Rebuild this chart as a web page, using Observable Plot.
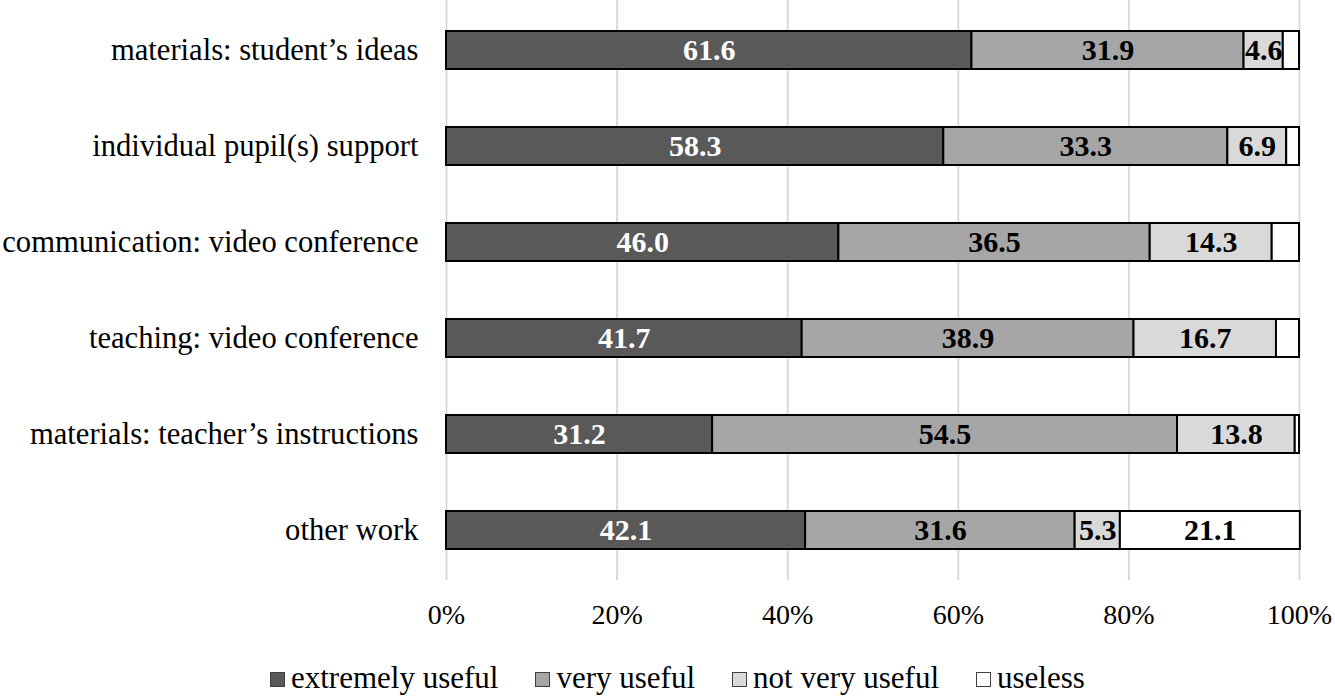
<!DOCTYPE html>
<html>
<head>
<meta charset="utf-8">
<script src="https://cdn.jsdelivr.net/npm/d3@7"></script>
<script src="https://cdn.jsdelivr.net/npm/@observablehq/plot@0.6"></script>
<style>
  body { margin: 0; background: #fff; font-family: "Liberation Serif", "Tinos", "DejaVu Serif", serif; }
  #legend { display: flex; justify-content: flex-start; gap: 37px; font-size: 31px; line-height: 34px; padding-left: 270px; margin-top: 11px; color: #000; }
  #legend .item { display: flex; align-items: center; }
  #legend .sw { width: 15px; height: 15px; border: 1.5px solid #404040; margin-right: 6px; box-sizing: border-box; margin-top: 2px; }
  svg text { font-family: "Liberation Serif", "Tinos", "DejaVu Serif", serif; }
</style>
</head>
<body>
<div id="chart"></div>
<div id="legend"></div>
<script>
const categories = [
  "materials: student’s ideas",
  "individual pupil(s) support",
  "communication: video conference",
  "teaching: video conference",
  "materials: teacher’s instructions",
  "other work"
];
const seriesNames = ["extremely useful", "very useful", "not very useful", "useless"];
const extremelyUseful = [61.6, 58.3, 46.0, 41.7, 31.2, 42.1];
const veryUseful      = [31.9, 33.3, 36.5, 38.9, 54.5, 31.6];
const notVeryUseful   = [4.6, 6.9, 14.3, 16.7, 13.8, 5.3];
const useless         = [1.9, 1.5, 3.2, 2.7, 0.5, 21.1];
const colors = ["#595959", "#a6a6a6", "#d9d9d9", "#ffffff"];
const labelColors = ["#ffffff", "#000000", "#000000", "#000000"];
const xTicks = [0, 20, 40, 60, 80, 100];

const seriesValues = [extremelyUseful, veryUseful, notVeryUseful, useless];
const data = [];
categories.forEach((c, i) => {
  seriesNames.forEach((s, j) => {
    data.push({category: c, series: s, value: seriesValues[j][i], labelColor: labelColors[j]});
  });
});

const chart = Plot.plot({
  width: 1335,
  height: 650,
  marginLeft: 446,
  marginRight: 36,
  marginTop: 0,
  marginBottom: 70,
  style: {fontFamily: "'Liberation Serif', Tinos, 'DejaVu Serif', serif", fontSize: "28px", color: "#000", background: "#fff"},
  x: {domain: [0, 100], ticks: xTicks, tickFormat: d => d + "%", tickSize: 0, tickPadding: 24, label: null},
  y: {domain: categories, paddingInner: 0.607, paddingOuter: 0.3035, label: null, axis: null},
  color: {domain: seriesNames, range: colors},
  marks: [
    Plot.ruleX(xTicks, {stroke: "#d9d9d9", strokeWidth: 2}),
    Plot.axisY({tickSize: 0, tickPadding: 28, fontSize: 30.6, label: null}),
    Plot.barX(data, Plot.stackX({x: "value", y: "category", fill: "series", stroke: "#000", strokeWidth: 2})),
    Plot.text(data.filter(d => d.value >= 4), Plot.stackX({
      x: "value", y: "category", z: "series",
      text: d => d.value.toFixed(1),
      fill: "labelColor",
      fontWeight: "bold",
      fontSize: 30
    }))
  ]
});
document.getElementById("chart").appendChild(chart);

const legend = document.getElementById("legend");
seriesNames.forEach((s, j) => {
  const item = document.createElement("div");
  item.className = "item";
  const sw = document.createElement("span");
  sw.className = "sw";
  sw.style.background = colors[j];
  const t = document.createElement("span");
  t.textContent = s;
  item.appendChild(sw);
  item.appendChild(t);
  legend.appendChild(item);
});
</script>
</body>
</html>
